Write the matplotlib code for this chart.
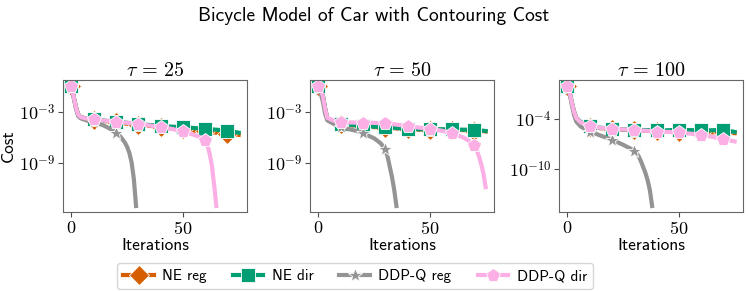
import numpy as np
import matplotlib.pyplot as plt
from matplotlib.ticker import NullLocator

plt.rcParams['font.family'] = 'cmss10'
plt.rcParams['mathtext.fontset'] = 'cm'
plt.rcParams['axes.unicode_minus'] = False

ne_iters = [0, 1, 2, 3, 4, 6, 8, 10, 15, 20, 25, 30, 35, 40, 45, 50, 55, 60, 65, 70, 75]

# log10(cost), tau = 25
ne_reg_25 = [0.0, -1.2, -2.4, -3.3, -3.6, -3.8, -3.9, -3.95, -4.1, -4.25, -4.4, -4.5, -4.65, -4.8, -4.95, -5.05, -5.2, -5.3, -5.45, -5.55, -5.7]
ne_dir_25 = [0.0, -1.2, -2.4, -3.3, -3.6, -3.75, -3.85, -3.9, -4.05, -4.15, -4.3, -4.45, -4.55, -4.65, -4.75, -4.8, -4.9, -5.0, -5.1, -5.2, -5.45]
ddpq_reg_25_iters = [0, 1, 2, 3, 4, 6, 8, 10, 12, 14, 16, 18, 20, 22, 24, 25, 26, 27, 28, 29]
ddpq_reg_25 = [0.0, -1.3, -2.6, -3.5, -3.75, -3.95, -4.1, -4.2, -4.35, -4.55, -4.8, -5.1, -5.45, -5.9, -6.6, -7.1, -7.8, -8.9, -10.8, -14.0]
ddpq_dir_25_iters = [0, 1, 2, 3, 4, 6, 8, 10, 15, 20, 25, 30, 35, 40, 45, 50, 55, 58, 60, 61, 62, 63, 64, 65]
ddpq_dir_25 = [0.0, -1.2, -2.4, -3.3, -3.6, -3.75, -3.85, -3.9, -4.05, -4.15, -4.3, -4.45, -4.6, -4.8, -5.0, -5.3, -5.7, -6.0, -6.3, -6.9, -7.9, -9.3, -11.5, -14.0]

# log10(cost), tau = 50
ne_reg_50 = [0.0, -0.5, -1.1, -2.6, -3.8, -4.1, -4.3, -4.45, -4.6, -4.7, -4.8, -4.85, -4.95, -5.05, -5.1, -5.1, -5.1, -5.15, -5.15, -5.2, -5.3]
ne_dir_50 = [0.0, -0.5, -1.1, -2.6, -3.8, -4.05, -4.25, -4.4, -4.55, -4.65, -4.75, -4.8, -4.9, -5.0, -5.05, -5.05, -5.05, -5.05, -5.1, -5.1, -5.25]
ddpq_reg_50_iters = [0, 1, 2, 3, 4, 6, 8, 10, 14, 18, 20, 22, 25, 28, 30, 31, 32, 33, 34, 35]
ddpq_reg_50 = [0.0, -0.8, -1.8, -3.2, -4.0, -4.3, -4.55, -4.8, -5.05, -5.3, -5.5, -5.75, -6.1, -6.7, -7.4, -8.2, -9.4, -10.6, -12.1, -14.0]
ddpq_dir_50_iters = [0, 1, 2, 3, 4, 6, 8, 10, 15, 20, 25, 30, 35, 40, 45, 50, 55, 60, 65, 68, 70, 71, 72, 73, 74, 75]
ddpq_dir_50 = [0.0, -0.5, -1.1, -2.6, -3.7, -3.95, -4.15, -4.24, -4.26, -4.28, -4.3, -4.36, -4.5, -4.67, -4.85, -5.0, -5.2, -5.5, -6.0, -6.5, -6.9, -7.5, -8.2, -9.1, -10.2, -11.8]

# log10(cost), tau = 100
ne_reg_100 = [0.0, -0.7, -2.0, -3.1, -3.85, -4.4, -4.7, -4.95, -5.1, -5.25, -5.3, -5.35, -5.4, -5.45, -5.5, -5.5, -5.5, -5.55, -5.6, -5.6, -5.7]
ne_dir_100 = [0.0, -0.7, -2.0, -3.1, -3.85, -4.35, -4.65, -4.89, -5.05, -5.16, -5.25, -5.3, -5.33, -5.37, -5.35, -5.3, -5.33, -5.37, -5.35, -5.3, -5.55]
ddpq_reg_100_iters = [0, 1, 2, 3, 4, 6, 8, 10, 15, 20, 25, 30, 32, 33, 34, 35, 36, 37, 38]
ddpq_reg_100 = [0.0, -0.9, -2.3, -3.5, -4.3, -4.9, -5.2, -5.5, -6.0, -6.5, -7.1, -7.8, -8.5, -9.1, -9.8, -10.5, -11.4, -12.6, -14.5]
ddpq_dir_100 = [0.0, -0.7, -2.0, -3.1, -3.85, -4.4, -4.65, -4.85, -5.05, -5.2, -5.25, -5.3, -5.4, -5.5, -5.55, -5.6, -5.75, -5.9, -6.15, -6.4, -6.7]

taus = [25, 50, 100]
yticks = [[-3, -9], [-3, -9], [-4, -10]]
labels = ['NE reg', 'NE dir', 'DDP-Q reg', 'DDP-Q dir']

panels = [
    [(ne_iters, ne_reg_25), (ne_iters, ne_dir_25), (ddpq_reg_25_iters, ddpq_reg_25), (ddpq_dir_25_iters, ddpq_dir_25)],
    [(ne_iters, ne_reg_50), (ne_iters, ne_dir_50), (ddpq_reg_50_iters, ddpq_reg_50), (ddpq_dir_50_iters, ddpq_dir_50)],
    [(ne_iters, ne_reg_100), (ne_iters, ne_dir_100), (ddpq_reg_100_iters, ddpq_reg_100), (ne_iters, ddpq_dir_100)],
]

styles = [
    dict(color='#d55e00', marker='D', ms=10),
    dict(color='#029e73', marker='s', ms=9.5),
    dict(color='#949494', marker='*', ms=10),
    dict(color='#fbafe4', marker='p', ms=10.5),
]

fig = plt.figure(figsize=(7.48, 2.91), dpi=100)
lefts = [63, 310, 559]
handles = []
for k, (tau, series) in enumerate(zip(taus, panels)):
    ax = fig.add_axes([lefts[k] / 748, 1 - 212 / 291, 184 / 748, 132 / 291])
    for (its, vals), st, lab in zip(series, styles, labels):
        its = np.array(its)
        marks = [i for i, x in enumerate(its) if x % 10 == 0]
        h, = ax.plot(its, 10.0 ** np.array(vals), lw=3, markevery=marks,
                     mec='white', mew=0.6, label=lab, **st)
        if k == 0:
            handles.append(h)
    ax.set_yscale('log')
    ax.yaxis.set_minor_locator(NullLocator())
    ax.set_yticks([10.0 ** t for t in yticks[k]])
    ax.set_yticklabels([r'$10^{%d}$' % t for t in yticks[k]])
    ax.set_xticks([0, 50])
    ax.set_xticklabels([r'$0$', r'$50$'])
    ax.tick_params(labelsize=13, color='0.3', pad=2)
    for s in ax.spines.values():
        s.set_edgecolor('0.4')
    ax.set_title(r'$\tau\,=\,%d$' % tau, fontsize=14.5, pad=3)
    ax.set_xlabel('Iterations', fontsize=12.5, labelpad=1)
    if k == 0:
        ax.set_ylabel('Cost', fontsize=12.5, labelpad=2)

fig.suptitle('Bicycle Model of Car with Contouring Cost', fontsize=14, y=0.975)
fig.legend(handles, labels, loc='lower center', ncol=4, bbox_to_anchor=(355 / 748, -0.02),
           fontsize=11, handlelength=2.0, handletextpad=0.55, columnspacing=1.7)

fig.savefig('out.png', dpi=100)
